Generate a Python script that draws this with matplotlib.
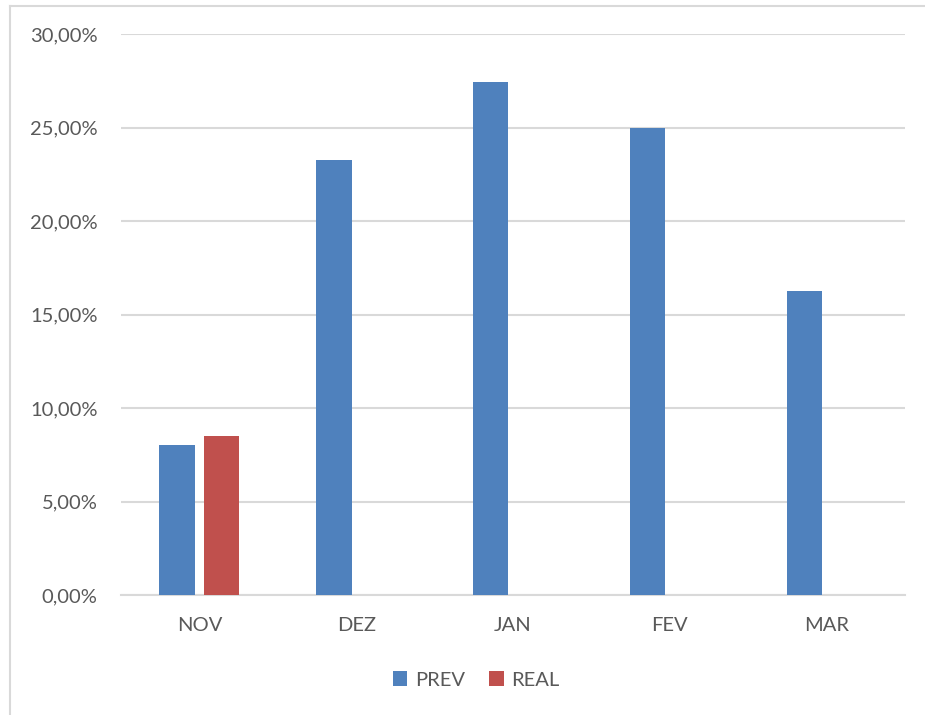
import numpy as np
import matplotlib.pyplot as plt
from matplotlib.lines import Line2D
from matplotlib.ticker import FuncFormatter

# chart data
months = ["NOV", "DEZ", "JAN", "FEV", "MAR"]
prev = [8.0, 23.25, 27.45, 25.0, 16.25]
real = [8.5, 0, 0, 0, 0]

blue = "#4F81BD"
red = "#C0504D"
grid_gray = "#D9D9D9"
text_gray = "#595959"

plt.rcParams['font.family'] = ['Lato', 'DejaVu Sans']

fig = plt.figure(figsize=(9.25, 7.15), dpi=100)
ax = fig.add_axes([121 / 925, 1 - 595 / 715, 784 / 925, 561 / 715])

x = np.arange(len(months))
w = 0.226
off = 0.1417
ax.bar(x - off, prev, w, color=blue, label="PREV", zorder=3)
ax.bar(x + off, real, w, color=red, label="REAL", zorder=3)

ax.set_xlim(-0.5, len(months) - 0.5)
ax.set_ylim(0, 30)
ax.set_yticks(np.arange(0, 31, 5))
ax.yaxis.set_major_formatter(FuncFormatter(lambda v, p: f"{v:.2f}%".replace(".", ",")))
ax.set_xticks(x)
ax.set_xticklabels(months)

ax.grid(axis="y", color=grid_gray, linewidth=1.5, zorder=0)
for s in ["top", "right", "left"]:
    ax.spines[s].set_visible(False)
ax.spines["bottom"].set_color(grid_gray)
ax.spines["bottom"].set_linewidth(1.5)
ax.tick_params(axis="both", length=0, labelsize=14.5, colors=text_gray)
ax.tick_params(axis="y", pad=17)
ax.tick_params(axis="x", pad=16)

leg = fig.legend(loc="center", bbox_to_anchor=(476.5 / 925, 1 - 680 / 715),
                 ncol=2, frameon=False, fontsize=14.5, handlelength=0.7,
                 handleheight=0.7, handletextpad=0.4, columnspacing=1.2)
for t in leg.get_texts():
    t.set_color(text_gray)

# outer chart frame, only left and top edges visible (cropped)
fx = 9.5 / 925
fy = 1 - 5.5 / 715
fig.add_artist(Line2D([fx, fx], [0, fy], transform=fig.transFigure,
                      color=grid_gray, linewidth=1.5))
fig.add_artist(Line2D([fx, 1], [fy, fy], transform=fig.transFigure,
                      color=grid_gray, linewidth=1.5))

fig.savefig("out.png", dpi=100)
